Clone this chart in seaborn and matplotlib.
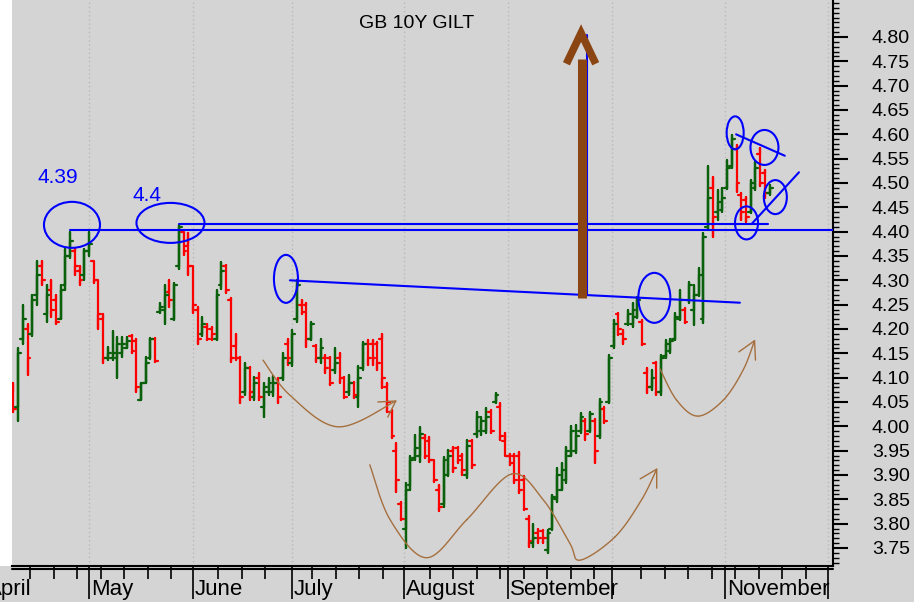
import numpy as np
import pandas as pd
import matplotlib.pyplot as plt
import matplotlib.transforms as mtransforms
import seaborn as sns
from matplotlib.patches import Ellipse, Rectangle
from matplotlib.ticker import FixedLocator, MultipleLocator, FuncFormatter

# daily OHLC of the GB 10Y gilt yield (one bar per trading day)
opens = [4.07, 4.04, 4.18, 4.20, 4.19, 4.27, 4.33, 4.23, 4.28, 4.26,
         4.22, 4.29, 4.35, 4.36, 4.32, 4.31, 4.36, 4.34, 4.30, 4.22,
         4.14, 4.14, 4.14, 4.15, 4.16, 4.185, 4.175, 4.055, 4.09, 4.14,
         4.18, 4.235, 4.24, 4.275, 4.22, 4.33, 4.40, 4.37, 4.33, 4.24,
         4.19, 4.205, 4.20, 4.18, 4.29, 4.33, 4.26, 4.165, 4.14, 4.07,
         4.12, 4.06, 4.10, 4.04, 4.07, 4.07, 4.09, 4.10, 4.17, 4.13,
         4.22, 4.25, 4.25, 4.18, 4.165, 4.14, 4.14, 4.14, 4.115, 4.14,
         4.10, 4.07, 4.09, 4.06, 4.12, 4.17, 4.17, 4.17, 4.18, 4.08,
         4.03, 3.95, 3.84, 3.79, 3.88, 3.935, 3.94, 3.975, 3.97, 3.93,
         3.87, 3.84, 3.90, 3.95, 3.955, 3.94, 3.90, 3.97, 3.985, 3.99,
         3.99, 4.03, 4.05, 4.04, 3.97, 3.94, 3.94, 3.94, 3.89, 3.81,
         3.76, 3.78, 3.785, 3.745, 3.79, 3.85, 3.87, 3.89, 3.94, 3.95,
         3.99, 4.01, 3.99, 4.01, 3.98, 4.035, 4.05, 4.165, 4.23, 4.19,
         4.21, 4.21, 4.225, 4.215, 4.11, 4.08, 4.13, 4.07, 4.145, 4.155,
         4.18, 4.22, 4.24, 4.26, 4.24, 4.27, 4.22, 4.41, 4.49, 4.44,
         4.445, 4.49, 4.535, 4.57, 4.475, 4.465, 4.44, 4.49, 4.56, 4.52,
         4.48]
highs = [4.09, 4.16, 4.25, 4.21, 4.27, 4.34, 4.34, 4.29, 4.30, 4.27,
         4.29, 4.365, 4.40, 4.365, 4.33, 4.365, 4.40, 4.34, 4.30, 4.23,
         4.164, 4.195, 4.184, 4.184, 4.184, 4.187, 4.18, 4.09, 4.143, 4.182,
         4.182, 4.253, 4.29, 4.30, 4.294, 4.414, 4.40, 4.397, 4.33, 4.245,
         4.225, 4.21, 4.205, 4.28, 4.338, 4.331, 4.263, 4.19, 4.142, 4.13,
         4.122, 4.102, 4.11, 4.09, 4.10, 4.104, 4.10, 4.15, 4.18, 4.198,
         4.30, 4.26, 4.253, 4.215, 4.167, 4.18, 4.147, 4.143, 4.16, 4.15,
         4.102, 4.105, 4.092, 4.123, 4.174, 4.178, 4.178, 4.174, 4.19, 4.09,
         4.034, 3.965, 3.845, 3.883, 3.938, 3.982, 3.999, 3.982, 3.979, 3.931,
         3.88, 3.936, 3.951, 3.958, 3.958, 3.944, 3.972, 3.972, 4.03, 4.02,
         4.037, 4.034, 4.068, 4.047, 3.986, 3.944, 3.944, 3.948, 3.897, 3.815,
         3.80, 3.79, 3.787, 3.787, 3.859, 3.914, 3.924, 3.958, 4.00, 4.003,
         4.027, 4.016, 4.03, 4.016, 4.057, 4.04, 4.147, 4.218, 4.232, 4.198,
         4.239, 4.253, 4.266, 4.218, 4.12, 4.116, 4.133, 4.147, 4.177, 4.18,
         4.232, 4.28, 4.243, 4.297, 4.29, 4.325, 4.397, 4.534, 4.513, 4.486,
         4.49, 4.547, 4.599, 4.578, 4.48, 4.472, 4.506, 4.544, 4.571, 4.527,
         4.496]
lows = [4.03, 4.01, 4.17, 4.105, 4.185, 4.25, 4.29, 4.215, 4.225, 4.21,
        4.22, 4.28, 4.345, 4.31, 4.29, 4.30, 4.35, 4.295, 4.20, 4.13,
        4.137, 4.137, 4.10, 4.143, 4.16, 4.15, 4.07, 4.054, 4.088, 4.138,
        4.133, 4.232, 4.21, 4.246, 4.218, 4.324, 4.352, 4.31, 4.232, 4.17,
        4.185, 4.178, 4.178, 4.178, 4.283, 4.273, 4.133, 4.136, 4.047, 4.064,
        4.054, 4.054, 4.054, 4.02, 4.064, 4.062, 4.047, 4.095, 4.126, 4.123,
        4.215, 4.23, 4.164, 4.177, 4.133, 4.13, 4.11, 4.085, 4.11, 4.09,
        4.058, 4.064, 4.058, 4.04, 4.116, 4.126, 4.126, 4.116, 4.078, 4.03,
        3.975, 3.866, 3.808, 3.75, 3.87, 3.931, 3.927, 3.934, 3.927, 3.886,
        3.825, 3.835, 3.897, 3.907, 3.924, 3.90, 3.893, 3.914, 3.979, 3.982,
        3.986, 3.986, 4.048, 3.972, 3.938, 3.92, 3.883, 3.862, 3.828, 3.753,
        3.753, 3.76, 3.76, 3.739, 3.787, 3.845, 3.869, 3.883, 3.938, 3.945,
        3.986, 3.972, 3.989, 3.924, 3.975, 4.006, 4.047, 4.16, 4.188, 4.17,
        4.208, 4.205, 4.222, 4.167, 4.068, 4.075, 4.065, 4.065, 4.14, 4.15,
        4.177, 4.218, 4.212, 4.253, 4.208, 4.267, 4.212, 4.403, 4.39, 4.424,
        4.44, 4.488, 4.53, 4.482, 4.424, 4.42, 4.438, 4.486, 4.493, 4.47,
        4.475]
closes = [4.035, 4.15, 4.22, 4.14, 4.26, 4.31, 4.30, 4.27, 4.24, 4.215,
          4.28, 4.35, 4.38, 4.33, 4.30, 4.36, 4.375, 4.30, 4.23, 4.14,
          4.15, 4.15, 4.17, 4.17, 4.175, 4.155, 4.08, 4.09, 4.13, 4.18,
          4.135, 4.245, 4.27, 4.26, 4.29, 4.41, 4.36, 4.33, 4.25, 4.18,
          4.21, 4.18, 4.19, 4.27, 4.32, 4.28, 4.14, 4.14, 4.06, 4.12,
          4.07, 4.09, 4.06, 4.08, 4.09, 4.09, 4.06, 4.14, 4.14, 4.19,
          4.29, 4.235, 4.18, 4.21, 4.14, 4.16, 4.12, 4.09, 4.13, 4.10,
          4.06, 4.09, 4.065, 4.10, 4.17, 4.14, 4.14, 4.13, 4.10, 4.05,
          3.98, 3.89, 3.81, 3.87, 3.93, 3.955, 3.985, 3.94, 3.93, 3.89,
          3.835, 3.93, 3.94, 3.915, 3.93, 3.91, 3.96, 3.92, 4.02, 4.01,
          4.02, 3.99, 4.065, 3.98, 3.94, 3.925, 3.89, 3.87, 3.83, 3.765,
          3.77, 3.77, 3.77, 3.78, 3.855, 3.90, 3.91, 3.95, 3.99, 3.98,
          4.02, 3.985, 4.025, 3.95, 4.05, 4.01, 4.14, 4.21, 4.20, 4.18,
          4.23, 4.24, 4.26, 4.17, 4.08, 4.10, 4.07, 4.14, 4.17, 4.175,
          4.225, 4.26, 4.215, 4.29, 4.27, 4.31, 4.39, 4.47, 4.43, 4.46,
          4.47, 4.53, 4.59, 4.50, 4.44, 4.43, 4.50, 4.53, 4.50, 4.48,
          4.49]

months = ["April", "May", "June", "July", "August", "September", "", "November"]
month_starts = [-6.1, 16.0, 38.0, 58.9, 82.6, 104.6, 126.6, 150.5]
axis_end = 172.3
price_ticks = np.round(np.arange(3.75, 4.801, 0.05), 2)

BG = "#d4d4d4"
GREEN = "#0b600b"
RED = "#ff0000"
BLUE = "#0000ff"
BROWN = "#8b4513"
THIN = "#a56f3e"

sns.set_style("white")
plt.rcParams["font.family"] = ["Liberation Sans", "DejaVu Sans"]
plt.rcParams["text.color"] = "black"
plt.rcParams["xtick.color"] = "black"
plt.rcParams["ytick.color"] = "black"


def smooth(pts, n=25):
    # Catmull-Rom through hand-drawn guide points
    p = np.asarray(pts, dtype=float)
    p = np.vstack([p[0], p, p[-1]])
    t = np.linspace(0, 1, n)[:, None]
    out = []
    for i in range(1, len(p) - 2):
        p0, p1, p2, p3 = p[i - 1], p[i], p[i + 1], p[i + 2]
        out.append(0.5 * (2 * p1 + (-p0 + p2) * t
                          + (2 * p0 - 5 * p1 + 4 * p2 - p3) * t ** 2
                          + (-p0 + 3 * p1 - 3 * p2 + p3) * t ** 3))
    return np.vstack(out)


fig = plt.figure(figsize=(9.14, 6.02), dpi=100, facecolor=BG)
ax = fig.add_axes([12 / 914, 36 / 602, 821 / 914, 566 / 602])
ax.set_facecolor(BG)
fig.patches.append(Rectangle((0, 36 / 602), 11.5 / 914, 566 / 602, transform=fig.transFigure,
                             facecolor="white", edgecolor="none", zorder=-1))

# OHLC bars in long form: open tick, high-low stem, close tick
w = 0.6
rows = []
for i, (o, h, l, c) in enumerate(zip(opens, highs, lows, closes)):
    d = "up" if c >= o else "down"
    for k, (x, y) in enumerate([(i - w, o), (i, o), (i, h), (i, l), (i, c), (i + w, c)]):
        rows.append({"bar": i, "step": k, "x": x, "y": y, "dir": d})
bars = pd.DataFrame(rows)
sns.lineplot(data=bars, x="x", y="y", units="bar", hue="dir", estimator=None, sort=False,
             palette={"up": GREEN, "down": RED}, lw=1.6, legend=False, ax=ax, zorder=3)

ax.set_xlim(-0.3, 173.4)
ax.set_ylim(3.713, 4.876)
ax.set_xlabel("")
ax.set_ylabel("")

# price scale on the right
ax.yaxis.tick_right()
ax.yaxis.set_major_locator(FixedLocator(price_ticks))
ax.yaxis.set_minor_locator(MultipleLocator(0.01))
ax.yaxis.set_major_formatter(FuncFormatter(lambda v, p: f"{v:.2f}"))
ax.tick_params(axis="y", which="major", direction="out", length=11, width=1.5, pad=17,
               labelsize=14, right=True, left=False, colors="black")
ax.tick_params(axis="y", which="minor", direction="out", length=4, width=1, right=True, left=False)

# month axis
ax.xaxis.set_major_locator(FixedLocator(month_starts[1:] + [axis_end]))
weekly = [p for p in np.arange(3.6, 172, 4.97) if min(abs(p - m) for m in month_starts) > 1.5]
ax.xaxis.set_minor_locator(FixedLocator(weekly))
ax.tick_params(axis="x", which="major", direction="out", length=24, width=1.2,
               bottom=True, labelbottom=False, colors="black")
ax.tick_params(axis="x", which="minor", direction="out", length=9, width=1.2, bottom=True)
ax.grid(axis="x", which="major", color="#b8b8b8", linestyle=(0, (1, 2)), lw=1)
for s in ["left", "top"]:
    ax.spines[s].set_visible(False)
ax.spines["right"].set_linewidth(1.5)
ax.spines["right"].set_color("black")
ax.spines["bottom"].set_linewidth(1.5)
ax.spines["bottom"].set_color("black")
ax.plot([0, 1], [-0.006, -0.006], transform=ax.transAxes, color="black", lw=1.5, clip_on=False)

trans = mtransforms.blended_transform_factory(ax.transData, ax.transAxes)
for name, pos in zip(months, month_starts):
    ax.text(pos + 0.4, -0.041, name, transform=trans, ha="left", va="center", fontsize=16,
            clip_on=False)

fig.text(417 / 914, 1 - 24 / 602, "GB 10Y GILT", ha="center", va="center", fontsize=14)

# blue annotations
ax.text(5.2, 4.512, "4.39", color=BLUE, fontsize=15, va="center", ha="left")
ax.text(25.1, 4.475, "4.4", color=BLUE, fontsize=15, va="center", ha="left")
blue_lines = [
    ([12, 173.4], [4.4035, 4.4035]),
    ([35, 159.6], [4.415, 4.415]),
    ([58.5, 153.7], [4.30, 4.254]),
    ([121.3, 121.3], [4.804, 4.2697]),
    ([152.9, 163.2], [4.60, 4.556]),
    ([156.2, 166.2], [4.416, 4.522]),
]
for xs, ys in blue_lines:
    ax.plot(xs, ys, color=BLUE, lw=1.5, zorder=4)
ellipses = [
    (12.39, 4.414, 11.85, 0.0945), (33.23, 4.418, 14.39, 0.0822), (57.66, 4.303, 5.08, 0.0986),
    (135.6, 4.264, 6.77, 0.1027), (152.7, 4.603, 3.6, 0.0678), (158.9, 4.573, 5.92, 0.0719),
    (155.1, 4.418, 4.87, 0.0678), (161.2, 4.471, 4.87, 0.0699),
]
for cx, cy, ew, eh in ellipses:
    ax.add_patch(Ellipse((cx, cy), ew, eh, fill=False, edgecolor=BLUE, lw=1.5, zorder=4))

# big brown arrow
ax.plot([120.2, 120.2], [4.264, 4.755], color=BROWN, lw=6.5, solid_capstyle="butt", zorder=4)
ax.plot([117.0, 120.1, 123.2], [4.745, 4.808, 4.745], color=BROWN, lw=5.5,
        solid_joinstyle="miter", solid_capstyle="butt", zorder=4)

# thin hand-drawn arrows
curves = [
    ([(52.8, 4.136), (58.5, 4.064), (68.7, 3.999), (80.9, 4.052)],
     [(77.1, 4.05), (80.9, 4.052), (79.2, 4.019)]),
    ([(75.4, 3.921), (79.7, 3.808), (87.4, 3.730), (95.9, 3.808), (105.4, 3.902), (112.1, 3.849),
      (117.7, 3.760), (119.9, 3.725), (127.3, 3.773), (132.9, 3.849), (136.1, 3.912)],
     [(132.6, 3.892), (136.1, 3.912), (136.1, 3.873)]),
    ([(136.8, 4.118), (140.3, 4.054), (144.8, 4.021), (150.2, 4.054), (154.4, 4.116), (156.8, 4.176)],
     [(153.5, 4.153), (156.8, 4.176), (157.0, 4.136)]),
]
for pts, head in curves:
    c = smooth(pts)
    ax.plot(c[:, 0], c[:, 1], color=THIN, lw=1, zorder=4)
    h = np.asarray(head)
    ax.plot(h[:, 0], h[:, 1], color=THIN, lw=1, zorder=4)

fig.savefig("out.png", dpi=100, facecolor=BG)
